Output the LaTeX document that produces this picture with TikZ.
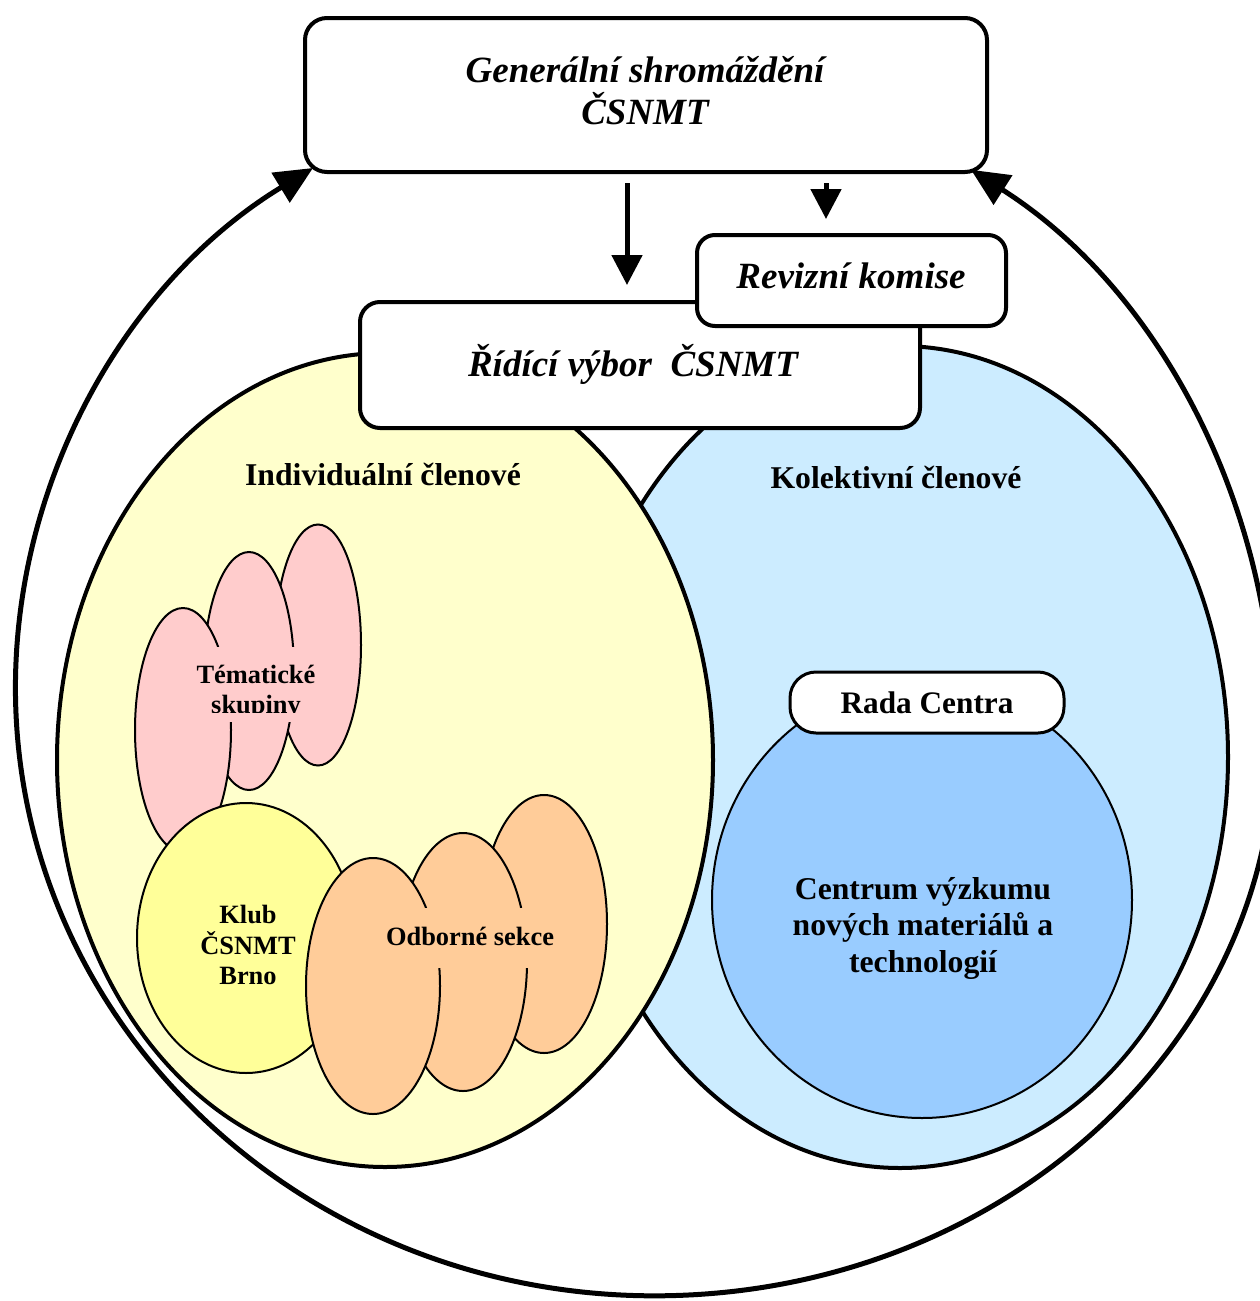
\documentclass[tikz,border=0pt]{standalone}
\usepackage{fontspec}
\setmainfont{Liberation Serif}
\usetikzlibrary{shapes.geometric,arrows.meta}

\definecolor{indiv}{HTML}{FFFFCC}
\definecolor{kolekt}{HTML}{CCECFF}
\definecolor{tema}{HTML}{FFCCCC}
\definecolor{klub}{HTML}{FFFF99}
\definecolor{sekce}{HTML}{FFCC99}
\definecolor{centrum}{HTML}{99CCFF}

\begin{document}
\begin{tikzpicture}[x=1pt, y=-1pt, organ/.style={draw, line width=4pt,
  fill=white, rounded corners=22pt, inner sep=0pt}, title/.style={align=center,
  inner sep=0pt, font=\fontsize{37}{42}\selectfont\bfseries\itshape},
  group/.style={ellipse, draw, line width=4pt, minimum width=656pt},
  unit/.style={ellipse, draw, line width=2pt}, caption/.style={align=center,
  inner sep=0pt, font=\fontsize{31.7}{36.5}\selectfont\bfseries},
  small/.style={align=center, inner sep=0pt,
  font=\fontsize{26.4}{30.5}\selectfont\bfseries}, flow/.style={-{Triangle[
  length=30pt, width=30pt]}, line width=5pt} ]

\useasboundingbox (0,0) rectangle (1260,1301);

% Member groups
\node[group, fill=kolekt, minimum height=822pt] (kolekt) at (900,757) {};
\node[group, fill=indiv, minimum height=814pt] (indiv) at (385,760) {};

% Governing bodies
\node[organ, minimum width=560pt, minimum height=126pt, rounded corners=20pt]
  (ridici) at (640,365) {};
\node[title] (ridiciL) at (633,364) {Řídící výbor\ \ ČSNMT};
\node[organ, minimum width=309pt, minimum height=91pt, rounded corners=18pt]
  (revize) at (851.5,280.5) {};
\node[title] (revizeL) at (851,276) {Revizní komise};
\node[organ, minimum width=682pt, minimum height=154pt] (gen) at (646,95) {};
\node[title] (genL) at (645,91) {Generální shromáždění\\ČSNMT};

% Loop of members back to the general assembly
\coordinate (loopL) at ([xshift=10pt, yshift=6pt]gen.south west);
\draw[{Triangle[length=38pt, width=34pt]}-{Triangle[length=38pt, width=34pt]},
  line width=5pt] (loopL) arc[start angle=237.7, end angle=180, x radius=639,
  y radius=615] arc[start angle=180, end angle=90, x radius=639, y radius=608]
  arc[start angle=90, end angle=0, x radius=620, y radius=556]
  arc[start angle=0, end angle=-59.3, x radius=620, y radius=663];

% Connections gen -> bodies
\coordinate (toRidici) at (627,0); \coordinate (toRevize) at (826,0);
\draw[flow, shorten <=9pt, shorten >=15pt] (gen.south -| toRidici) --
  (ridici.north -| toRidici);
\draw[flow, shorten <=9pt, shorten >=14pt] (gen.south -| toRevize) --
  (revize.north -| toRevize);

% Group labels
\node[caption] (indivL) at (383,475) {Individuální členové};
\node[caption] (kolektL) at (896,477) {Kolektivní členové};

% Thematic groups
\foreach \i/\x/\y/\w/\h in {3/318/645/86pt/241pt, 2/249/671/90pt/238pt,
  1/183/730/96pt/244pt} { \node[unit, fill=tema, minimum width=\w,
  minimum height=\h] (tema\i) at (\x,\y) {}; }
\fill[tema] (192,647) rectangle (322,722);
\begin{scope}
  \clip (150,640) rectangle (340,712);
  \node[small] (temaL) at (256,692) {Tématické\\skupiny};
\end{scope}

% Club
\node[unit, fill=klub, minimum width=218pt, minimum height=270pt] (klub) at
  (246,938) {};
\node[small] (klubL) at (248,945) {Klub\\ČSNMT\\Brno};

% Expert sections
\foreach \i/\x/\y/\w/\h in {3/544/924/126pt/258pt, 2/463/962/128pt/258pt,
  1/373/986/134pt/256pt} { \node[unit, fill=sekce, minimum width=\w,
  minimum height=\h] (sekce\i) at (\x,\y) {}; }
\fill[sekce] (380,908) rectangle (560,968);
\node[small] (sekceL) at (470,936) {Odborné sekce};

% Research centre
\node[unit, fill=centrum, minimum width=420pt, minimum height=436pt] (centrum)
  at (922,900) {};
\node[caption] (centrumL) at (923,928) {Centrum výzkumu\\nových materiálů a\\technologií};
\node[caption, draw, line width=3pt, fill=white, rounded corners=26pt,
  minimum width=274pt, minimum height=61pt,
  font=\fontsize{31.3}{36}\selectfont\bfseries] (rada) at (927,702.5)
  {Rada Centra};

\end{tikzpicture}
\end{document}
